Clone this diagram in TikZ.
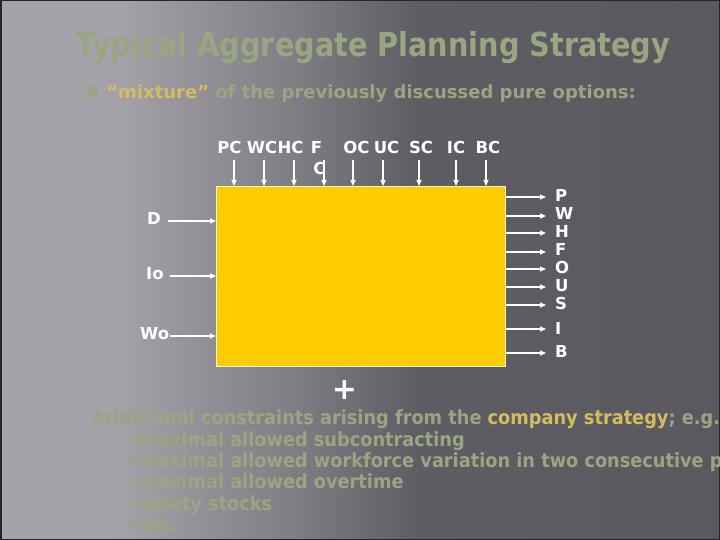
\documentclass[tikz,border=0pt]{standalone}
\usepackage{fontspec}
\setmainfont{DejaVu Sans}[FakeStretch=0.91]
\newfontfamily\titlefont{DejaVu Sans}[FakeStretch=0.87]
\newfontfamily\labelfont{DejaVu Sans}
\usetikzlibrary{arrows.meta}
\definecolor{bgLight}{HTML}{A5A3A9}
\definecolor{bgMid}{HTML}{817F86}
\definecolor{bgDark}{HTML}{5E5D63}
\definecolor{bgDeep}{HTML}{55545A}
\definecolor{sage}{HTML}{98A781}
\definecolor{gold}{HTML}{D3BD5E}
\definecolor{boxyellow}{HTML}{FFCC00}
\pgfdeclarehorizontalshading{slidebg}{100bp}{color(0bp)=(bgLight); color(33bp)=(bgLight); color(45bp)=(bgMid); color(54bp)=(bgDark); color(100bp)=(bgDeep)}

\begin{document}
\begin{tikzpicture}[x=1pt,y=-1pt,
    flow/.style={white,line width=1.2pt,-{Triangle[length=6pt,width=5pt]}},
    lbl/.style={white,inner sep=0pt,font=\labelfont\fontsize{16.5}{16.5}\selectfont\bfseries},
    sagetext/.style={sage,inner sep=0pt,font=\fontsize{19.5}{21}\selectfont\bfseries}]
  \clip (0,0) rectangle (720,540);
  \shade[shading=slidebg] (0,0) rectangle (720,540);
  \draw[black!85,line width=3pt] (0,0) rectangle (720,540);

  \node[sage,inner sep=0pt,anchor=base,font=\titlefont\fontsize{33}{33}\selectfont\bfseries] (title) at (373,57) {Typical Aggregate Planning Strategy};
  \node[sage,inner sep=0pt,anchor=base west,font=\labelfont\fontsize{18}{18}\selectfont\bfseries] (intro) at (86,99) {A \textcolor{gold}{“mixture”} of the previously discussed pure options:};

  \node[fill=boxyellow,draw=white!80!boxyellow,line width=1pt,minimum width=289pt,minimum height=180pt,inner sep=0pt,anchor=north west] (plant) at (216,186) {};

  \foreach \x/\t in {229.5/PC,262/WC,290.5/HC,356.5/OC,386.5/UC,421/SC,456/IC,488/BC}
    \node[lbl,anchor=base] (\t) at (\x,154) {\t};
  \node[lbl,anchor=base] (fcA) at (316.5,154) {F};
  \node[lbl,anchor=base] (fcB) at (319.5,175) {C};
  \foreach \x/\n in {234/1,264/2,294/3,324/4,353/5,383/6,419/7,456/8,486/9}
  {
    \coordinate (top\n) at (\x,160);
    \draw[flow] (top\n) -- (top\n |- plant.north);
  }

  \node[lbl,anchor=base west] (D) at (147,225) {D};
  \node[lbl,anchor=base west] (Io) at (146,279) {Io};
  \node[lbl,anchor=base west] (Wo) at (140,339) {Wo};
  \foreach \x/\y/\n in {168/221/D,170/276/Io,170/336/Wo}
  {
    \coordinate (in\n) at (\x,\y);
    \draw[flow] (in\n) -- (in\n -| plant.west);
  }

  \foreach \y/\b/\t in {197/202/P,216/219/W,233/237/H,252/255/F,269/273/O,287/291/U,305/309/S,329/334/I,353/357/B}
  {
    \node[lbl,anchor=base west] (out\t) at (555,\b) {\t};
    \coordinate (tip\t) at (546,\y);
    \draw[flow] (tip\t -| plant.east) -- (tip\t);
  }

  \node[white,inner sep=0pt,font=\labelfont\fontsize{30}{30}\selectfont\bfseries] (plus) at (344.5,390.5) {+};

  \node[sagetext,anchor=base west] (extra) at (92,424) {Additional constraints arising from the \textcolor{gold}{company strategy}; e.g.};
  \foreach \y/\t in {446/maximal allowed subcontracting,467/maximal allowed workforce variation in two consecutive periods,488/maximal allowed overtime,510/safety stocks,531/etc.}
    \node[sagetext,anchor=base west] at (128,\y) {•\t};
\end{tikzpicture}
\end{document}
